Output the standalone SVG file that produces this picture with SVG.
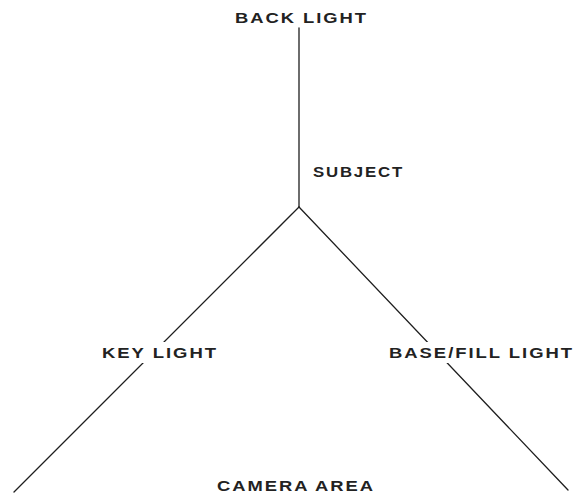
<svg xmlns="http://www.w3.org/2000/svg" width="580" height="496" viewBox="0 0 580 496">
<style>
.l{stroke:#1e1e1e;stroke-width:1.3;fill:none;stroke-linecap:round}
.t{font-family:"Liberation Sans",Arial,sans-serif;font-size:14px;font-weight:bold;fill:#222;letter-spacing:1.5px}
.bg{fill:#fff}
</style>
<rect width="580" height="496" fill="#fff"/>
<g id="connectors">
<line class="l" x1="299" y1="28" x2="299" y2="207"/>
<line class="l" x1="299" y1="207" x2="14" y2="492"/>
<line class="l" x1="299" y1="207" x2="568" y2="490"/>
</g>
<g id="back-light"><text class="t" x="235" y="22.5" textLength="133" lengthAdjust="spacingAndGlyphs">BACK LIGHT</text></g>
<g id="subject"><text class="t" x="313" y="176.5" textLength="91" lengthAdjust="spacingAndGlyphs">SUBJECT</text></g>
<g id="key-light"><rect class="bg" x="99" y="342" width="121" height="21"/><text class="t" x="102" y="358" textLength="116" lengthAdjust="spacingAndGlyphs">KEY LIGHT</text></g>
<g id="base-fill-light"><rect class="bg" x="386" y="342" width="192" height="21"/><text class="t" x="389" y="358" textLength="185" lengthAdjust="spacingAndGlyphs">BASE/FILL LIGHT</text></g>
<g id="camera-area"><text class="t" x="217" y="490.5" textLength="158" lengthAdjust="spacingAndGlyphs">CAMERA AREA</text></g>
</svg>
